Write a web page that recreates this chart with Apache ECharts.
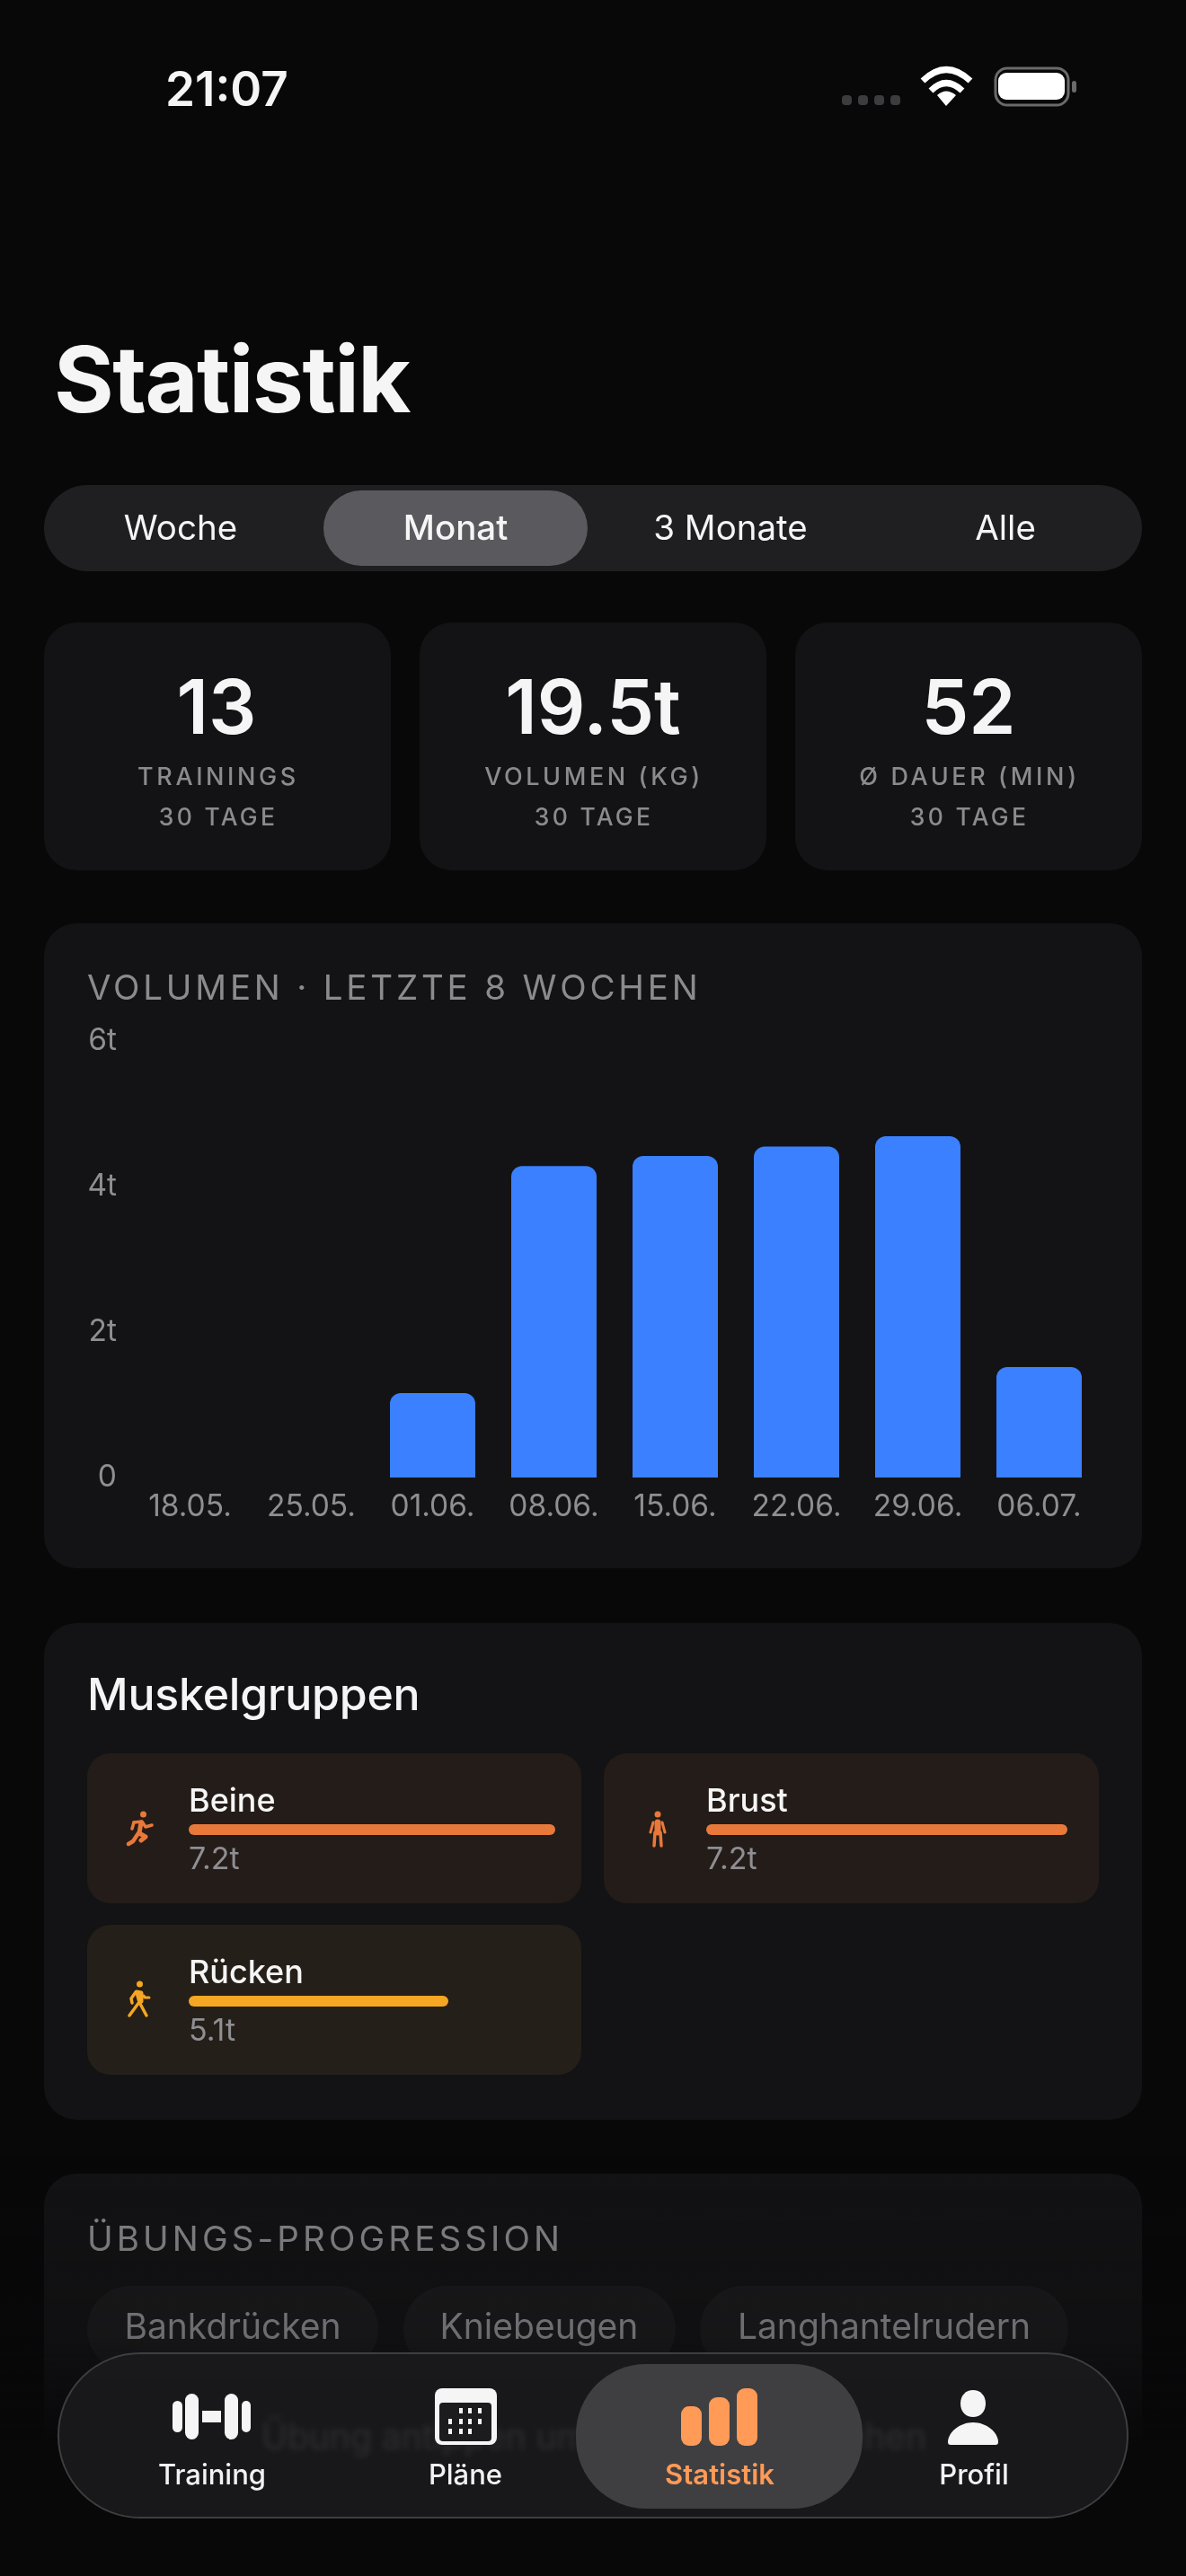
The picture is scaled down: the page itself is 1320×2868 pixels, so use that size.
<!DOCTYPE html>
<html lang="de">
<head>
<meta charset="utf-8">
<title>Statistik</title>
<script src="https://cdn.jsdelivr.net/npm/echarts@6/dist/echarts.min.js"></script>
<style>
  html, body { margin: 0; padding: 0; background: #080809; }
  #page { position: relative; width: 1320px; height: 2868px; overflow: hidden; background: #080809;
    font-family: Inter, "Noto Sans", sans-serif; color: #f5f5f5; }
  .box, .t, #chart, #fade, #icons { position: absolute; }
  .box { z-index: 1; box-sizing: border-box; }
  .t { z-index: 3; white-space: nowrap; line-height: 1; }
  .c { transform: translateX(-50%); }
  .card { background: #131315; border-radius: 36px; }
  .head { font-size: 38.5px; letter-spacing: 3.8px; color: #8b8b8f; }
  .small { font-size: 27px; letter-spacing: 3.6px; color: #8b8b8f; font-weight: 500; }
  .days { font-size: 26.5px; letter-spacing: 3.3px; }
  .num { font-size: 84px; font-weight: 600; }
  .seg { font-size: 38.5px; }
  .chip { font-size: 39px; color: #8e8e93; }
  .name { font-size: 36px; font-weight: 500; }
  .val { font-size: 34px; color: #8e8e93; }
  .nav { font-size: 31px; font-weight: 500; z-index: 7; color: #f2f2f2; }
  #chart { left: 0; top: 0; width: 1320px; height: 2868px; z-index: 2; }
  #fade { left: 0; top: 2400px; width: 1320px; height: 468px; z-index: 4;
    background: linear-gradient(#08080900 0, #08080924 100px, #08080940 200px, #08080999 260px, #080809 320px); }
  #navbar { z-index: 5; left: 64px; top: 2619px; width: 1192px; height: 185px; border-radius: 92px;
    background: rgba(28,28,30,.84); border: 2px solid #3e3e40; backdrop-filter: blur(3px); }
  #navpill { z-index: 6; left: 641px; top: 2632px; width: 319px; height: 161px; border-radius: 78px; background: #3f3f41; }
  #icons { left: 0; top: 0; z-index: 8; }
</style>
</head>
<body>
<div id="page">
  <div class="t" style="left:184px;top:73px;font-size:53px;font-weight:600">21:07</div>
  <div class="t" style="left:60px;top:377px;font-size:102px;font-weight:700;letter-spacing:-1.6px;line-height:90px">Statistik</div>

  <div class="box" style="left:49px;top:540px;width:1222px;height:96px;border-radius:48px;background:#1f1f22"></div>
  <div class="box" style="left:360px;top:546px;width:294px;height:84px;border-radius:42px;background:#59595e"></div>
  <div class="t c seg" style="left:201px;top:568px">Woche</div>
  <div class="t c seg" style="left:507px;top:568px;font-weight:500">Monat</div>
  <div class="t c seg" style="left:813px;top:568px">3 Monate</div>
  <div class="t c seg" style="left:1119px;top:568px">Alle</div>

  <div class="box card" style="left:49px;top:693px;width:386px;height:276px"></div>
  <div class="box card" style="left:467px;top:693px;width:386px;height:276px"></div>
  <div class="box card" style="left:885px;top:693px;width:386px;height:276px"></div>
  <div class="t c num" style="left:241px;top:745px">13</div>
  <div class="t c num" style="left:660px;top:745px">19.5t</div>
  <div class="t c num" style="left:1078px;top:745px">52</div>
  <div class="t c small" style="left:243px;top:851px">TRAININGS</div>
  <div class="t c small" style="left:661px;top:851px">VOLUMEN (KG)</div>
  <div class="t c small" style="left:1079px;top:851px">Ø DAUER (MIN)</div>
  <div class="t c small days" style="left:243px;top:896px">30 TAGE</div>
  <div class="t c small days" style="left:661px;top:896px">30 TAGE</div>
  <div class="t c small days" style="left:1079px;top:896px">30 TAGE</div>

  <div class="box card" style="left:49px;top:1028px;width:1222px;height:718px"></div>
  <div class="t head" style="left:97px;top:1080px">VOLUMEN · LETZTE 8 WOCHEN</div>

  <div class="box card" style="left:49px;top:1807px;width:1222px;height:553px"></div>
  <div class="t" style="left:97px;top:1861px;font-size:50px;font-weight:500;letter-spacing:-0.2px">Muskelgruppen</div>
  <div class="box" style="left:97px;top:1952px;width:550px;height:167px;border-radius:26px;background:#241c18"></div>
  <div class="box" style="left:672px;top:1952px;width:551px;height:167px;border-radius:26px;background:#241c18"></div>
  <div class="box" style="left:97px;top:2143px;width:550px;height:167px;border-radius:26px;background:#241f18"></div>
  <div class="t name" style="left:210px;top:1986px">Beine</div>
  <div class="t val" style="left:210px;top:2052px">7.2t</div>
  <div class="t name" style="left:786px;top:1986px">Brust</div>
  <div class="t val" style="left:786px;top:2052px">7.2t</div>
  <div class="t name" style="left:210px;top:2177px">Rücken</div>
  <div class="t val" style="left:210px;top:2243px">5.1t</div>

  <div class="box card" style="left:49px;top:2420px;width:1222px;height:448px"></div>
  <div class="t head" style="left:97px;top:2473px;letter-spacing:4.1px">ÜBUNGS-PROGRESSION</div>
  <div class="box" style="left:97px;top:2545px;width:324px;height:96px;border-radius:48px;background:#1b1b1d"></div>
  <div class="box" style="left:449px;top:2545px;width:303px;height:96px;border-radius:48px;background:#1b1b1d"></div>
  <div class="box" style="left:779px;top:2545px;width:410px;height:96px;border-radius:48px;background:#1b1b1d"></div>
  <div class="t c chip" style="left:259px;top:2570px">Bankdrücken</div>
  <div class="t c chip" style="left:600px;top:2570px">Kniebeugen</div>
  <div class="t c chip" style="left:984px;top:2570px">Langhantelrudern</div>

  <div id="chart"></div>
  <div id="fade"></div>
  <div class="t c chip" style="left:661px;top:2693px;z-index:4">Übung antippen um Fortschritt zu sehen</div>

  <div class="box" id="navbar"></div>
  <div class="box" id="navpill"></div>
  <div class="t c nav" style="left:236px;top:2739px">Training</div>
  <div class="t c nav" style="left:518px;top:2739px">Pläne</div>
  <div class="t c nav" style="left:801px;top:2739px;color:#ff9a57;font-weight:600">Statistik</div>
  <div class="t c nav" style="left:1084px;top:2739px">Profil</div>

  <svg id="icons" width="1320" height="2868" viewBox="0 0 1320 2868">
    <!-- status bar -->
    <g fill="#3c3c3e">
      <rect x="937" y="106" width="11" height="11" rx="4"/><rect x="955" y="106" width="11" height="11" rx="4"/>
      <rect x="973" y="106" width="11" height="11" rx="4"/><rect x="991" y="106" width="11" height="11" rx="4"/>
    </g>
    <g fill="none" stroke="#fff" stroke-width="7">
      <path d="M1027 90 Q1053 65 1080 90"/><path d="M1036 101 Q1053 84 1071 101"/>
    </g>
    <path d="M1053 118 L1043 106 Q1053 97 1064 106 Z" fill="#fff"/>
    <rect x="1108" y="76" width="81" height="41" rx="13" fill="none" stroke="#6a6a6a" stroke-width="3"/>
    <rect x="1111" y="81" width="74" height="30" rx="9" fill="#fff"/>
    <rect x="1193" y="90" width="5" height="13" rx="2.5" fill="#6a6a6a"/>

    <!-- muscle figures -->
    <g fill="none" stroke="#e8793b" stroke-width="4" stroke-linecap="round" stroke-linejoin="round">
      <circle cx="159.500" cy="2020" r="3.500" fill="#e8793b" stroke="none"/>
      <path d="M149 2029 L158 2028 L162 2034 L169 2032" stroke-width="3.500"/>
      <path d="M149 2029 L147 2036" stroke-width="3.500"/>
      <path d="M157 2029 L155 2041 L162 2045 L157 2049" stroke-width="5"/>
      <path d="M154 2041 L148 2050 L143 2053" stroke-width="4.500"/>
      <circle cx="732" cy="2020" r="3.500" fill="#e8793b" stroke="none"/>
      <path d="M732 2029 L732 2040" stroke-width="7"/>
      <path d="M727 2029 L724 2040 M737 2029 L740 2040" stroke-width="3"/>
      <path d="M729 2040 L728 2055 M735 2040 L736 2055" stroke-width="3.500"/>
    </g>
    <g fill="none" stroke="#f5a623" stroke-width="4" stroke-linecap="round" stroke-linejoin="round">
      <circle cx="155.500" cy="2209" r="3.500" fill="#f5a623" stroke="none"/>
      <path d="M152 2218 L155 2229 L144 2244 M155 2229 L163 2244" stroke-width="3.500"/>
      <path d="M151 2218 L146 2225 L147 2230" stroke-width="3.500"/>
      <path d="M160 2222 L161 2224 L166 2224" stroke-width="3"/>
      <path d="M152 2218 L157 2219 L157 2228" stroke-width="5"/>
    </g>

    <!-- nav icons -->
    <g fill="#f5f5f5">
      <rect x="192" y="2673" width="11" height="35" rx="5.500"/>
      <rect x="206" y="2665" width="15" height="51" rx="7.500"/>
      <rect x="225" y="2684" width="21" height="13"/>
      <rect x="250" y="2665" width="15" height="51" rx="7.500"/>
      <rect x="269" y="2673" width="10" height="35" rx="5"/>
      <rect x="484" y="2659" width="69" height="63" rx="8"/>
      <path d="M1083 2661 C1091 2661 1097 2667 1097 2676 C1097 2685 1091 2691 1083 2691 C1075 2691 1069 2685 1069 2676 C1069 2667 1075 2661 1083 2661 Z"/>
      <path d="M1083 2697 C1098 2697 1111 2708 1111 2719 Q1111 2722 1108 2722 L1058 2722 Q1055 2722 1055 2719 C1055 2708 1068 2697 1083 2697 Z"/>
    </g>
    <rect x="489" y="2675" width="58" height="43" rx="4" fill="#1c1c1e"/>
    <g fill="#f5f5f5">
      <rect x="511" y="2681" width="4" height="6"/><rect x="521" y="2681" width="4" height="6"/><rect x="532" y="2681" width="4" height="6"/>
      <rect x="499" y="2693" width="4" height="6"/><rect x="511" y="2693" width="4" height="6"/><rect x="521" y="2693" width="4" height="6"/><rect x="532" y="2693" width="4" height="6"/>
      <rect x="499" y="2704" width="4" height="6"/><rect x="511" y="2704" width="4" height="6"/><rect x="521" y="2704" width="4" height="6"/>
    </g>
    <g fill="#ff9a57">
      <rect x="758" y="2679" width="23" height="44" rx="9"/>
      <rect x="789" y="2669" width="23" height="54" rx="9"/>
      <rect x="820" y="2659" width="23" height="64" rx="9"/>
    </g>
  </svg>
</div>
<script>
// volume per week, tons
const weeks = ['18.05.', '25.05.', '01.06.', '08.06.', '15.06.', '22.06.', '29.06.', '06.07.']
const volumeTons = [0, 0, 1.16, 4.28, 4.42, 4.55, 4.69, 1.52]

// muscle groups, tons
const muscleNames = ['Beine', 'Brust', 'Rücken']
const muscleTons = [7.2, 7.2, 5.1]
const muscleColors = ['#e8793b', '#e8793b', '#f5a623']
const muscleGrids = [
  { left: 210, top: 2031, width: 408, height: 12 },
  { left: 786, top: 2031, width: 402, height: 12 },
  { left: 210, top: 2222, width: 408, height: 12 }
]

const labelStyle = { color: '#8e8e93', fontSize: 33.5, fontFamily: 'Inter' }
const maxMuscle = Math.max(...muscleTons)

const chart = echarts.init(document.getElementById('chart'), null, { width: 1320, height: 2868 })
chart.setOption({
  backgroundColor: 'transparent',
  animation: false,
  grid: [{ left: 144, top: 1159, width: 1080, height: 486 }].concat(muscleGrids),
  xAxis: [{
    type: 'category',
    gridIndex: 0,
    data: weeks,
    axisLine: { show: false },
    axisTick: { show: false },
    axisLabel: Object.assign({ interval: 0, margin: 16 }, labelStyle)
  }].concat(muscleNames.map((n, i) => ({
    type: 'value', gridIndex: i + 1, min: 0, max: maxMuscle, show: false
  }))),
  yAxis: [{
    type: 'value',
    gridIndex: 0,
    min: 0,
    max: 6,
    interval: 2,
    splitLine: { show: false },
    axisLine: { show: false },
    axisTick: { show: false },
    axisLabel: Object.assign({ margin: 14, padding: [4, 0, 0, 0], formatter: v => v ? v + 't' : '0' }, labelStyle)
  }].concat(muscleNames.map((n, i) => ({
    type: 'category', gridIndex: i + 1, data: [n], show: false
  }))),
  series: [{
    type: 'bar',
    name: 'Volumen',
    xAxisIndex: 0,
    yAxisIndex: 0,
    data: volumeTons,
    barWidth: 95,
    itemStyle: { color: '#3a80ff', borderRadius: [12, 12, 0, 0] }
  }].concat(muscleNames.map((n, i) => ({
    type: 'bar',
    name: n,
    xAxisIndex: i + 1,
    yAxisIndex: i + 1,
    data: [muscleTons[i]],
    barWidth: 12,
    itemStyle: { color: muscleColors[i], borderRadius: 6 }
  })))
})
</script>
</body>
</html>
